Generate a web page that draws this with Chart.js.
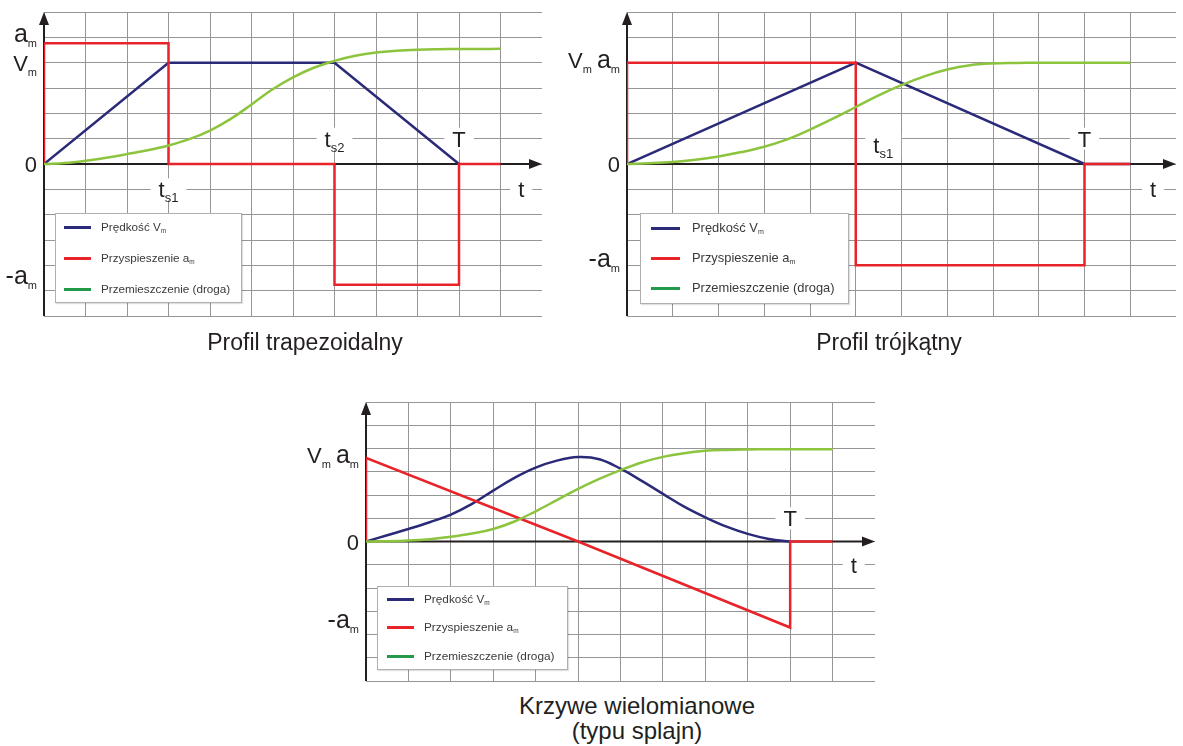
<!DOCTYPE html>
<html>
<head>
<meta charset="utf-8">
<script src="https://cdn.jsdelivr.net/npm/chart.js@4.4.1/dist/chart.umd.min.js"></script>
<style>
  body { margin: 0; background: #fff; }
  #wrap { position: relative; width: 1183px; height: 746px; overflow: hidden; background: #fff;
          font-family: "Liberation Sans", Arial, sans-serif; color: #231f20; }
  canvas { position: absolute; }
  .title { position: absolute; white-space: nowrap; transform: translateX(-50%); line-height: 25px; }
  .legend { position: absolute; background: #fff; border: 1px solid #b0b0b0; box-shadow: 1px 1px 1px rgba(0,0,0,0.12); }
  .legend .ln { position: absolute; height: 3px; }
  .legend .tx { position: absolute; white-space: nowrap; color: #3a3a3a; line-height: 14px; }
  .legend sub { font-size: 55%; vertical-align: -2px; }
</style>
</head>
<body>
<div id="wrap">
  <canvas id="c1" width="560" height="330" style="left:0;top:0;width:560px;height:330px"></canvas>
  <canvas id="c2" width="623" height="330" style="left:560px;top:0;width:623px;height:330px"></canvas>
  <canvas id="c3" width="600" height="300" style="left:290px;top:390px;width:600px;height:300px"></canvas>
</div>
<script>
// ================= DATA =================
const SERIES_NAMES = ['Prędkość V_m', 'Przyspieszenie a_m', 'Przemieszczenie (droga)'];

// --- Profil trapezoidalny ---
const TRAP_TITLE = ['Profil trapezoidalny'];
const TRAP_VEL_T = [0, 3, 7, 10];
const TRAP_VEL   = [0, 4, 4, 0];
const TRAP_ACC_T = [0, 0, 3, 3, 7, 7, 10, 10, 11];
const TRAP_ACC   = [0, 4.77, 4.77, 0, 0, -4.77, -4.77, 0, 0];
const TRAP_POS_T = [0, 0.5, 1, 1.5, 2, 2.5, 3, 3.5, 4, 4.5, 5, 5.5, 6, 6.5, 7, 7.5, 8, 8.5, 9, 9.5, 10, 10.5, 11];
const TRAP_POS   = [0, 0.04, 0.13, 0.25, 0.39, 0.54, 0.73, 0.98, 1.32, 1.78, 2.35, 2.94, 3.42, 3.8, 4.07, 4.27, 4.4, 4.47, 4.51, 4.53, 4.54, 4.54, 4.55];
const TRAP_LEVEL_LABELS = ['a_m', 'V_m', '0', '-a_m'];
const TRAP_LEVEL_VALUES = [4.77, 4, 0, -4.77];
const TRAP_TIME_LABELS = ['t_s1', 't_s2', 'T', 't'];
const TRAP_TIME_X = [3, 7, 10, 11.5];
const TRAP_TIME_Y = [-1, 1, 1, -1];

// --- Profil trójkątny ---
const TRI_TITLE = ['Profil trójkątny'];
const TRI_VEL_T = [0, 5, 10, 11];
const TRI_VEL   = [0, 4, 0, 0];
const TRI_ACC_T = [0, 0, 5, 5, 10, 10, 11];
const TRI_ACC   = [0, 4, 4, -4, -4, 0, 0];
const TRI_POS_T = [0, 0.5, 1, 1.5, 2, 2.5, 3, 3.5, 4, 4.5, 5, 5.5, 6, 6.5, 7, 7.5, 8, 8.5, 9, 9.5, 10, 10.5, 11];
const TRI_POS   = [0, 0.03, 0.08, 0.17, 0.3, 0.47, 0.68, 0.97, 1.36, 1.79, 2.25, 2.71, 3.11, 3.46, 3.73, 3.9, 3.97, 3.99, 4.0, 4.0, 4.0, 4.0, 4.0];
const TRI_LEVEL_LABELS = ['V_m\u2009a_m', '0', '-a_m'];
const TRI_LEVEL_VALUES = [4, 0, -4];
const TRI_TIME_LABELS = ['t_s1', 'T', 't'];
const TRI_TIME_X = [5.6, 10, 11.5];
const TRI_TIME_Y = [0.75, 1, -1];

// --- Krzywe wielomianowe (typu splajn) ---
const SPL_TITLE = ['Krzywe wielomianowe', '(typu splajn)'];
const SPL_VEL_T = [0, 0.5, 1, 1.5, 2, 2.5, 3, 3.5, 4, 4.5, 5, 5.5, 6, 6.5, 7, 7.5, 8, 8.5, 9, 9.5, 10];
const SPL_VEL   = [0, 0.27, 0.54, 0.83, 1.16, 1.62, 2.19, 2.74, 3.18, 3.48, 3.63, 3.54, 3.13, 2.61, 2.05, 1.5, 1.04, 0.64, 0.33, 0.11, 0];
const SPL_ACC_T = [0, 0, 5, 10, 10, 11];
const SPL_ACC   = [0, 3.6, 0, -3.7, 0, 0];
const SPL_POS_T = [0, 0.5, 1, 1.5, 2, 2.5, 3, 3.5, 4, 4.5, 5, 5.5, 6, 6.5, 7, 7.5, 8, 8.5, 9, 9.5, 10, 10.5, 11];
const SPL_POS   = [0, 0.01, 0.04, 0.1, 0.2, 0.34, 0.54, 0.86, 1.3, 1.78, 2.26, 2.69, 3.07, 3.4, 3.64, 3.8, 3.9, 3.94, 3.96, 3.97, 3.97, 3.97, 3.97];
const SPL_LEVEL_LABELS = ['V_m\u2009a_m', '0', '-a_m'];
const SPL_LEVEL_VALUES = [3.6, 0, -3.7];
const SPL_TIME_LABELS = ['T', 't'];
const SPL_TIME_X = [10, 11.5];
const SPL_TIME_Y = [1, -1];

// ================= STYLE / LAYOUT =================
const FONT = '"Liberation Sans", Arial, sans-serif';
const INK = '#231f20';
const GRID = '#969696';
const C_VEL = '#2b2a78';
const C_ACC = '#e8242a';
const C_POS = '#8dc43e';
const C_POS_LEG = '#23994a';

function pts(xs, ys) { return xs.map((x, i) => ({ x: x, y: ys[i] })); }

function parseSub(s) {
  const parts = []; const re = /_([A-Za-z0-9]+)|([^_]+)/g; let m;
  while ((m = re.exec(s))) parts.push(m[1] ? { t: m[1], sub: true } : { t: m[2], sub: false });
  return parts;
}
// lowercase letters of the level labels are drawn a little larger (as in the reference lettering)
function partSize(p, size, subSize, bigLower) {
  if (p.sub) return subSize;
  if (bigLower && /[a-z]/.test(p.t)) return Math.round(size * 1.15);
  return size;
}
function richWidth(ctx, parts, size, subSize, bigLower) {
  let w = 0;
  for (const p of parts) { ctx.font = partSize(p, size, subSize, bigLower) + 'px ' + FONT; w += ctx.measureText(p.t).width; }
  return w;
}
function drawRich(ctx, parts, x, y, size, subSize, subDy, bigLower) {
  let cx = x;
  for (const p of parts) {
    ctx.font = partSize(p, size, subSize, bigLower) + 'px ' + FONT;
    ctx.fillText(p.t, cx, p.sub ? y + subDy : y);
    cx += ctx.measureText(p.t).width;
  }
}

const profilePlugin = {
  id: 'profile',
  beforeDatasetsDraw(chart, args, o) {
    const ctx = chart.ctx, xs = chart.scales.x, ys = chart.scales.y;
    const x0 = xs.getPixelForValue(0), y0 = ys.getPixelForValue(0);
    const yb = ys.getPixelForValue(ys.min), yt = ys.getPixelForValue(ys.max), xr = xs.getPixelForValue(xs.max);
    ctx.save();
    ctx.textBaseline = 'alphabetic'; ctx.textAlign = 'left';
    o.marks.forEach((lab, i) => {
      const parts = parseSub(lab);
      const w = richWidth(ctx, parts, 22, 13, false);
      const cx = xs.getPixelForValue(o.markX[i]), cy = ys.getPixelForValue(o.markY[i]);
      ctx.fillStyle = '#fff';
      ctx.fillRect(cx - w / 2 - 8, cy - 11, w + 16, 22);
      ctx.fillStyle = INK;
      drawRich(ctx, parts, cx - w / 2, cy + 8, 22, 13, 5, false);
    });
    ctx.strokeStyle = INK; ctx.fillStyle = INK; ctx.lineWidth = 2;
    ctx.beginPath(); ctx.moveTo(x0, yb); ctx.lineTo(x0, yt + 8); ctx.stroke();
    ctx.beginPath(); ctx.moveTo(x0, yt); ctx.lineTo(x0 - 5, yt + 13); ctx.lineTo(x0 + 5, yt + 13); ctx.closePath(); ctx.fill();
    ctx.beginPath(); ctx.moveTo(x0, y0); ctx.lineTo(xr - 8, y0); ctx.stroke();
    ctx.beginPath(); ctx.moveTo(xr, y0); ctx.lineTo(xr - 13, y0 - 5); ctx.lineTo(xr - 13, y0 + 5); ctx.closePath(); ctx.fill();
    ctx.restore();
  },
  afterDraw(chart, args, o) {
    const ctx = chart.ctx, xs = chart.scales.x, ys = chart.scales.y;
    const x0 = xs.getPixelForValue(0);
    ctx.save();
    ctx.fillStyle = INK; ctx.textBaseline = 'alphabetic'; ctx.textAlign = 'left';
    o.levels.forEach((lab, i) => {
      const parts = parseSub(lab);
      const w = richWidth(ctx, parts, 22, 11, true);
      const py = ys.getPixelForValue(o.levelV[i]) + o.levelDy[i];
      drawRich(ctx, parts, x0 - 7 - w, py, 22, 11, 5, true);
    });
    ctx.restore();
  }
};

function makeChart(id, pad, d, ann) {
  return new Chart(document.getElementById(id), {
    type: 'line',
    data: {
      datasets: [
        { label: SERIES_NAMES[2], data: pts(d.posT, d.pos), borderColor: C_POS, borderWidth: 2.5, tension: 0.4, pointRadius: 0 },
        { label: SERIES_NAMES[1], data: pts(d.accT, d.acc), borderColor: C_ACC, borderWidth: 2.5, tension: 0, pointRadius: 0 },
        { label: SERIES_NAMES[0], data: pts(d.velT, d.vel), borderColor: C_VEL, borderWidth: 2.5, tension: d.velSmooth ? 0.4 : 0, pointRadius: 0 }
      ]
    },
    options: {
      responsive: false, animation: false, events: [],
      layout: { padding: pad },
      plugins: { legend: { display: false }, tooltip: { enabled: false }, profile: ann },
      scales: {
        x: { type: 'linear', min: 0, max: 12, border: { display: false },
             ticks: { display: false, stepSize: 1, maxTicksLimit: 30 },
             grid: { drawTicks: false, lineWidth: 1, color: c => (c.tick && c.tick.value === 12) ? 'rgba(0,0,0,0)' : GRID } },
        y: { type: 'linear', min: -6, max: 6, border: { display: false },
             ticks: { display: false, stepSize: 1, maxTicksLimit: 30 },
             grid: { drawTicks: false, lineWidth: 1, color: GRID } }
      }
    },
    plugins: [profilePlugin]
  });
}

makeChart('c1', { left: 44, top: 12, right: 18, bottom: 14 },
  { velT: TRAP_VEL_T, vel: TRAP_VEL, accT: TRAP_ACC_T, acc: TRAP_ACC, posT: TRAP_POS_T, pos: TRAP_POS },
  { levels: TRAP_LEVEL_LABELS, levelV: TRAP_LEVEL_VALUES, levelDy: [-1, 8, 8, -1],
    marks: TRAP_TIME_LABELS, markX: TRAP_TIME_X, markY: TRAP_TIME_Y });

makeChart('c2', { left: 67, top: 12, right: 7, bottom: 14 },
  { velT: TRI_VEL_T, vel: TRI_VEL, accT: TRI_ACC_T, acc: TRI_ACC, posT: TRI_POS_T, pos: TRI_POS },
  { levels: TRI_LEVEL_LABELS, levelV: TRI_LEVEL_VALUES, levelDy: [5, 8, 2],
    marks: TRI_TIME_LABELS, markX: TRI_TIME_X, markY: TRI_TIME_Y });

makeChart('c3', { left: 76, top: 12, right: 15, bottom: 9 },
  { velT: SPL_VEL_T, vel: SPL_VEL, velSmooth: true, accT: SPL_ACC_T, acc: SPL_ACC, posT: SPL_POS_T, pos: SPL_POS },
  { levels: SPL_LEVEL_LABELS, levelV: SPL_LEVEL_VALUES, levelDy: [5, 8, 0],
    marks: SPL_TIME_LABELS, markX: SPL_TIME_X, markY: SPL_TIME_Y });

// ================= LEGENDS & TITLES (HTML text) =================
const wrap = document.getElementById('wrap');
function subHtml(s) { return parseSub(s).map(p => p.sub ? '<sub>' + p.t + '</sub>' : p.t).join(''); }
function addLegend(box, rows, lineX, lineW, textX, fs) {
  const el = document.createElement('div');
  el.className = 'legend';
  el.style.cssText = `left:${box[0]}px;top:${box[1]}px;width:${box[2]}px;height:${box[3]}px`;
  const cols = [C_VEL, C_ACC, C_POS_LEG];
  SERIES_NAMES.forEach((name, i) => {
    const ln = document.createElement('div');
    ln.className = 'ln';
    ln.style.cssText = `left:${lineX}px;top:${rows[i] - 1.5}px;width:${lineW}px;background:${cols[i]}`;
    const tx = document.createElement('div');
    tx.className = 'tx';
    tx.style.cssText = `left:${textX}px;top:${rows[i] - 7}px;font-size:${fs}px`;
    tx.innerHTML = subHtml(name);
    el.appendChild(ln); el.appendChild(tx);
  });
  wrap.appendChild(el);
}
addLegend([55, 213, 185, 88], [13, 44, 75], 8, 27, 45, 11.7);
addLegend([640, 213, 207, 89], [14, 44, 74], 10, 29, 51, 12.9);
addLegend([377, 586, 189, 82], [12, 40, 69], 9, 27, 46, 11.8);

function addTitle(lines, cx, top, fs) {
  lines.forEach((t, i) => {
    const el = document.createElement('div');
    el.className = 'title';
    el.style.left = cx + 'px';
    el.style.top = (top + i * 25) + 'px';
    el.style.fontSize = fs + 'px';
    el.textContent = t;
    wrap.appendChild(el);
  });
}
addTitle(TRAP_TITLE, 305, 330, 23);
addTitle(TRI_TITLE, 889, 330, 23);
addTitle(SPL_TITLE, 637, 693, 24);
</script>
</body>
</html>
